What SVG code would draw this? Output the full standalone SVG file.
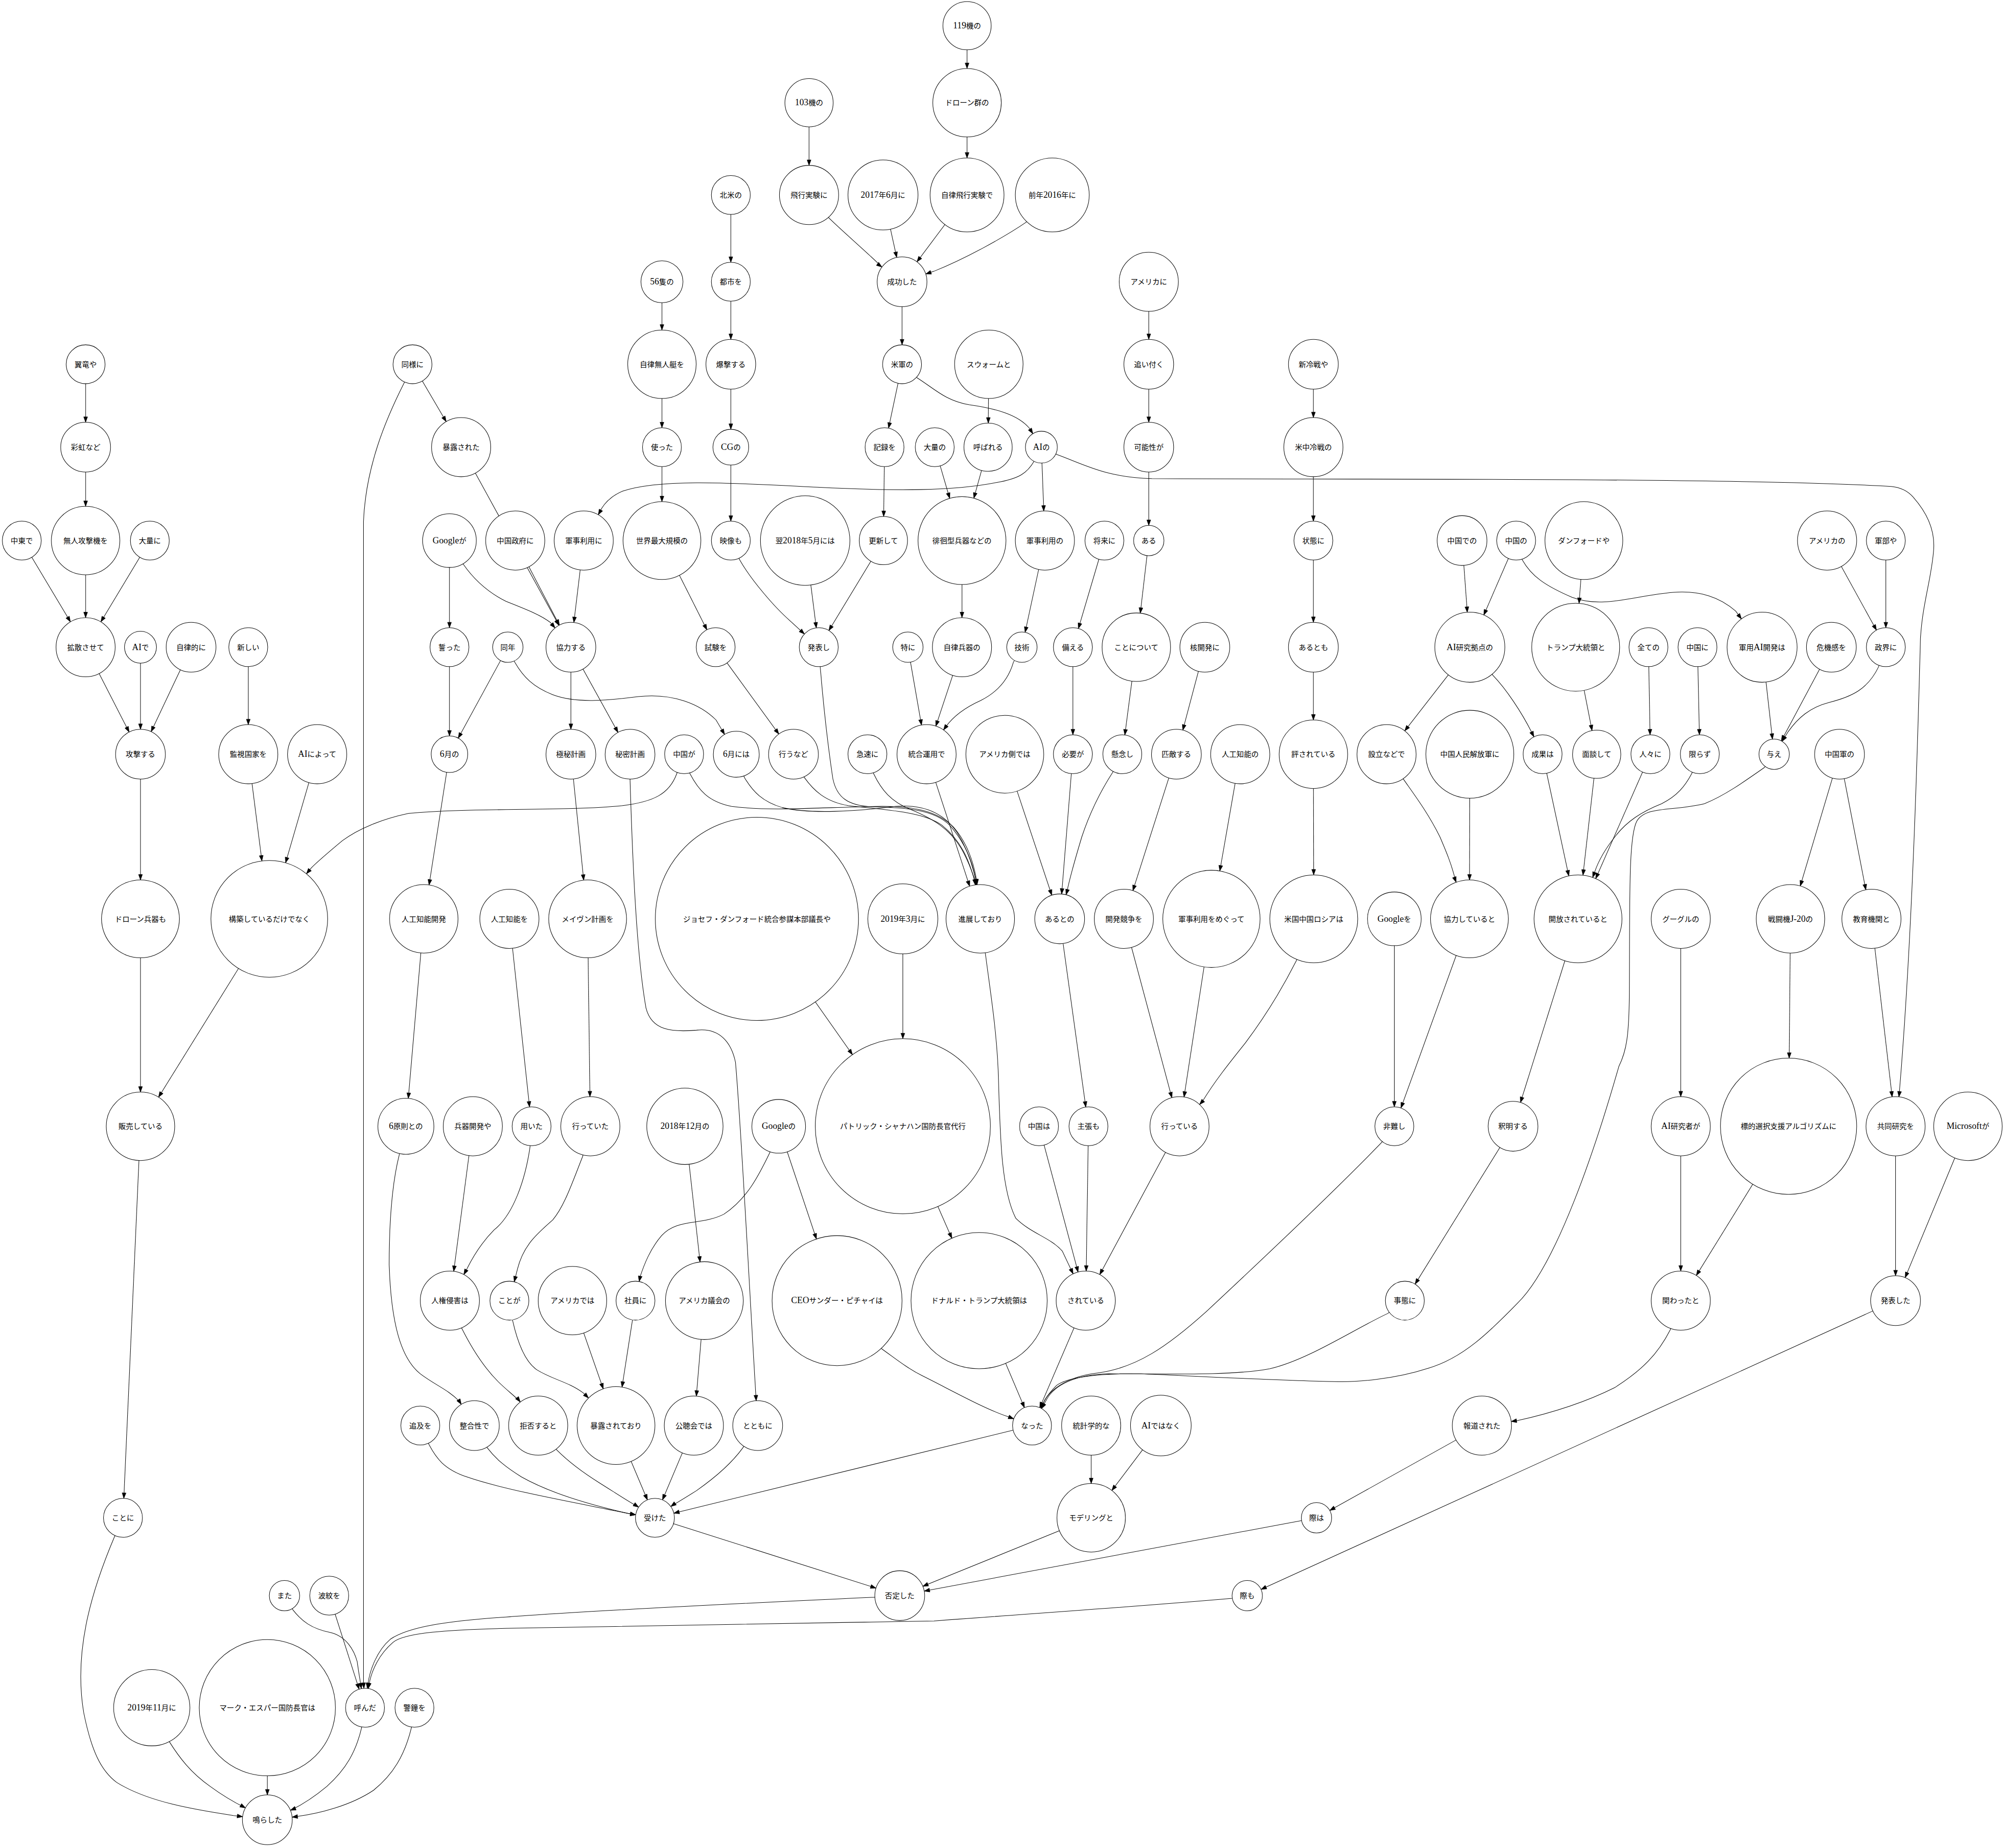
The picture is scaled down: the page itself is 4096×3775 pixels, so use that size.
<svg xmlns="http://www.w3.org/2000/svg" width="4096" height="3775" viewBox="0 0 4096 3775">
<style>
text{font-family:"Liberation Serif","Noto Sans CJK JP",serif;font-size:19px;text-anchor:middle;fill:#000}
.l{font-size:23px}
circle{fill:#fff;stroke:#000;stroke-width:1.3}
#edges path{fill:none;stroke:#000;stroke-width:1.3}
marker path{fill:#000;stroke:#000;stroke-width:1}
.m39{marker-end:url(#a39)}.m41{marker-end:url(#a41)}.m46{marker-end:url(#a46)}.m47{marker-end:url(#a47)}
.m50{marker-end:url(#a50)}.m59{marker-end:url(#a59)}.m62{marker-end:url(#a62)}.m64{marker-end:url(#a64)}
.m72{marker-end:url(#a72)}.m76{marker-end:url(#a76)}.m88{marker-end:url(#a88)}.m90{marker-end:url(#a90)}
.m95{marker-end:url(#a95)}.m100{marker-end:url(#a100)}.m113{marker-end:url(#a113)}.m125{marker-end:url(#a125)}
.m150{marker-end:url(#a150)}.m167{marker-end:url(#a167)}.m175{marker-end:url(#a175)}.m225{marker-end:url(#a225)}
</style>
<defs>
<marker id="a39" markerUnits="userSpaceOnUse" markerWidth="14" markerHeight="10" refX="53" refY="5" orient="auto" overflow="visible"><path d="M0,0L14,5L0,10z"/></marker>
<marker id="a41" markerUnits="userSpaceOnUse" markerWidth="14" markerHeight="10" refX="55" refY="5" orient="auto" overflow="visible"><path d="M0,0L14,5L0,10z"/></marker>
<marker id="a46" markerUnits="userSpaceOnUse" markerWidth="14" markerHeight="10" refX="60" refY="5" orient="auto" overflow="visible"><path d="M0,0L14,5L0,10z"/></marker>
<marker id="a47" markerUnits="userSpaceOnUse" markerWidth="14" markerHeight="10" refX="61" refY="5" orient="auto" overflow="visible"><path d="M0,0L14,5L0,10z"/></marker>
<marker id="a50" markerUnits="userSpaceOnUse" markerWidth="14" markerHeight="10" refX="64" refY="5" orient="auto" overflow="visible"><path d="M0,0L14,5L0,10z"/></marker>
<marker id="a59" markerUnits="userSpaceOnUse" markerWidth="14" markerHeight="10" refX="73" refY="5" orient="auto" overflow="visible"><path d="M0,0L14,5L0,10z"/></marker>
<marker id="a62" markerUnits="userSpaceOnUse" markerWidth="14" markerHeight="10" refX="76" refY="5" orient="auto" overflow="visible"><path d="M0,0L14,5L0,10z"/></marker>
<marker id="a64" markerUnits="userSpaceOnUse" markerWidth="14" markerHeight="10" refX="78" refY="5" orient="auto" overflow="visible"><path d="M0,0L14,5L0,10z"/></marker>
<marker id="a72" markerUnits="userSpaceOnUse" markerWidth="14" markerHeight="10" refX="86" refY="5" orient="auto" overflow="visible"><path d="M0,0L14,5L0,10z"/></marker>
<marker id="a76" markerUnits="userSpaceOnUse" markerWidth="14" markerHeight="10" refX="90" refY="5" orient="auto" overflow="visible"><path d="M0,0L14,5L0,10z"/></marker>
<marker id="a88" markerUnits="userSpaceOnUse" markerWidth="14" markerHeight="10" refX="102" refY="5" orient="auto" overflow="visible"><path d="M0,0L14,5L0,10z"/></marker>
<marker id="a90" markerUnits="userSpaceOnUse" markerWidth="14" markerHeight="10" refX="104" refY="5" orient="auto" overflow="visible"><path d="M0,0L14,5L0,10z"/></marker>
<marker id="a95" markerUnits="userSpaceOnUse" markerWidth="14" markerHeight="10" refX="109" refY="5" orient="auto" overflow="visible"><path d="M0,0L14,5L0,10z"/></marker>
<marker id="a100" markerUnits="userSpaceOnUse" markerWidth="14" markerHeight="10" refX="114" refY="5" orient="auto" overflow="visible"><path d="M0,0L14,5L0,10z"/></marker>
<marker id="a113" markerUnits="userSpaceOnUse" markerWidth="14" markerHeight="10" refX="127" refY="5" orient="auto" overflow="visible"><path d="M0,0L14,5L0,10z"/></marker>
<marker id="a125" markerUnits="userSpaceOnUse" markerWidth="14" markerHeight="10" refX="139" refY="5" orient="auto" overflow="visible"><path d="M0,0L14,5L0,10z"/></marker>
<marker id="a150" markerUnits="userSpaceOnUse" markerWidth="14" markerHeight="10" refX="164" refY="5" orient="auto" overflow="visible"><path d="M0,0L14,5L0,10z"/></marker>
<marker id="a167" markerUnits="userSpaceOnUse" markerWidth="14" markerHeight="10" refX="181" refY="5" orient="auto" overflow="visible"><path d="M0,0L14,5L0,10z"/></marker>
<marker id="a175" markerUnits="userSpaceOnUse" markerWidth="14" markerHeight="10" refX="189" refY="5" orient="auto" overflow="visible"><path d="M0,0L14,5L0,10z"/></marker>
<marker id="a225" markerUnits="userSpaceOnUse" markerWidth="14" markerHeight="10" refX="239" refY="5" orient="auto" overflow="visible"><path d="M0,0L14,5L0,10z"/></marker>
</defs>
<rect width="4096" height="3775" fill="#fff"/>
<g transform="scale(0.795)">
<g id="edges">
<path class="m88" d="M2485,66L2485,264"/>
<path class="m95" d="M2485,264L2485,501"/>
<path class="m76" d="M2079,264L2079,501"/>
<path class="m64" d="M2079,501L2129,559C2160,590 2230,650 2266,686L2318,724"/>
<path class="m64" d="M2269,501L2318,724"/>
<path class="m64" d="M2485,501L2318,724"/>
<path class="m64" d="M2704,501L2637,571C2580,610 2480,665 2400,697L2318,724"/>
<path class="m50" d="M2318,724L2318,936"/>
<path class="m50" d="M2318,936L2273,1149"/>
<path class="m41" d="M2318,936L2357,971C2400,998 2430,1030 2490,1040C2560,1050 2615,1065 2645,1100L2676,1149"/>
<path class="m62" d="M2273,1149L2270,1389"/>
<path class="m50" d="M2270,1389L2104,1663"/>
<path class="m50" d="M2069,1389L2104,1663"/>
<path class="m50" d="M1878,1389L1901,1439C1930,1490 1990,1560 2030,1595L2104,1663"/>
<path class="m50" d="M1878,501L1878,724"/>
<path class="m64" d="M1878,724L1878,936"/>
<path class="m46" d="M1878,936L1878,1149"/>
<path class="m50" d="M1878,1149L1878,1389"/>
<path class="m88" d="M1701,724L1701,936"/>
<path class="m50" d="M1701,936L1701,1149"/>
<path class="m100" d="M1701,1149L1701,1389"/>
<path class="m50" d="M1701,1389L1839,1663"/>
<path class="m64" d="M1839,1663L2039,1938"/>
<path class="m62" d="M2541,936L2539,1149"/>
<path class="m113" d="M2539,1149L2472,1389"/>
<path class="m113" d="M2402,1149L2472,1389"/>
<path class="m76" d="M2472,1389L2472,1663"/>
<path class="m76" d="M2472,1663L2381,1938"/>
<path class="m76" d="M2333,1663L2381,1938"/>
<path class="m76" d="M2626,1663L2604,1702C2590,1750 2560,1780 2520,1800C2480,1818 2450,1840 2430,1868L2381,1938"/>
<path class="m76" d="M2676,1149L2658,1184C2640,1215 2620,1230 2560,1240C2450,1262 2300,1262 2100,1252C1900,1242 1700,1228 1600,1262C1570,1275 1550,1295 1540,1318L1500,1389"/>
<path class="m76" d="M2676,1149L2685,1389"/>
<path class="m76" d="M2676,1149L2716,1168C2790,1195 2840,1226 2960,1230C3600,1232 4500,1228 4860,1250C4890,1253 4905,1265 4915,1276C4950,1315 4972,1360 4969,1410C4965,1480 4940,1550 4935,1640C4928,1900 4915,2400 4880,2815L4871,2894"/>
<path class="m39" d="M2685,1389L2626,1663"/>
<path class="m50" d="M2838,1389L2757,1663"/>
<path class="m50" d="M2757,1663L2757,1938"/>
<path class="m64" d="M2952,724L2952,936"/>
<path class="m64" d="M2952,936L2952,1149"/>
<path class="m39" d="M2952,1149L2952,1389"/>
<path class="m88" d="M2952,1389L2920,1663"/>
<path class="m50" d="M2920,1663L2884,1938"/>
<path class="m76" d="M3375,936L3375,1149"/>
<path class="m50" d="M3375,1149L3375,1389"/>
<path class="m64" d="M3375,1389L3375,1663"/>
<path class="m88" d="M3375,1663L3375,1938"/>
<path class="m113" d="M3375,1938L3376,2361"/>
<path class="m90" d="M3757,1389L3777,1663"/>
<path class="m90" d="M3896,1389L3777,1663"/>
<path class="m90" d="M3896,1389L3912,1439C3935,1480 3970,1505 4040,1535C4120,1565 4200,1530 4300,1522C4370,1517 4420,1535 4460,1570L4528,1663"/>
<path class="m113" d="M4070,1389L4049,1663"/>
<path class="m62" d="M4049,1663L4103,1938"/>
<path class="m76" d="M3777,1663L3563,1938"/>
<path class="m50" d="M3777,1663L3837,1736C3870,1770 3910,1830 3935,1880L3964,1938"/>
<path class="m50" d="M4236,1663L4241,1938"/>
<path class="m50" d="M4362,1663L4368,1938"/>
<path class="m50" d="M4695,1389L4846,1663"/>
<path class="m50" d="M4846,1389L4846,1663"/>
<path class="m39" d="M4528,1663L4559,1938"/>
<path class="m39" d="M4706,1663L4559,1938"/>
<path class="m39" d="M4846,1663L4827,1714C4800,1770 4760,1790 4700,1805C4650,1818 4620,1845 4595,1880L4559,1938"/>
<path class="m64" d="M220,936L220,1149"/>
<path class="m88" d="M220,1149L220,1389"/>
<path class="m76" d="M56,1389L220,1663"/>
<path class="m76" d="M220,1389L220,1663"/>
<path class="m76" d="M385,1389L220,1663"/>
<path class="m64" d="M220,1663L361,1938"/>
<path class="m64" d="M361,1663L361,1938"/>
<path class="m64" d="M491,1663L361,1938"/>
<path class="m76" d="M638,1663L638,1938"/>
<path class="m150" d="M638,1938L692,2361"/>
<path class="m150" d="M815,1938L692,2361"/>
<path class="m150" d="M1758,1938L1739,1988C1720,2040 1680,2060 1600,2070C1450,2085 1200,2075 1050,2090C980,2105 920,2130 880,2160C850,2185 820,2210 800,2230L692,2361"/>
<path class="m100" d="M361,1938L361,2361"/>
<path class="m88" d="M361,2361L361,2894"/>
<path class="m88" d="M692,2361L361,2894"/>
<path class="m50" d="M361,2894L316,3900"/>
<path class="m64" d="M316,3900L294,3949C230,4100 190,4250 215,4400C235,4500 260,4550 300,4580C380,4630 500,4650 600,4665L687,4676"/>
<path class="m76" d="M1060,936L1185,1149"/>
<path class="m50" d="M1060,936L1038,985C990,1080 940,1200 934,1340L934,4320L938,4388"/>
<path class="m64" d="M1185,1149L1467,1663"/>
<path class="m64" d="M1324,1389L1467,1663"/>
<path class="m64" d="M1500,1389L1467,1663"/>
<path class="m50" d="M1155,1389L1155,1663"/>
<path class="m64" d="M1155,1389L1190,1449C1215,1485 1250,1520 1300,1545C1350,1565 1390,1580 1415,1600L1467,1663"/>
<path class="m47" d="M1155,1663L1155,1938"/>
<path class="m47" d="M1305,1663L1155,1938"/>
<path class="m59" d="M1305,1663L1323,1702C1345,1740 1370,1765 1420,1785C1480,1808 1560,1800 1640,1790C1730,1780 1800,1810 1840,1850L1892,1938"/>
<path class="m64" d="M1467,1663L1467,1938"/>
<path class="m64" d="M1467,1663L1619,1938"/>
<path class="m88" d="M1155,1938L1089,2361"/>
<path class="m100" d="M1467,1938L1510,2361"/>
<path class="m64" d="M1619,1938L1619,2003C1625,2200 1635,2450 1660,2590C1675,2650 1730,2652 1790,2647C1850,2640 1880,2680 1890,2730C1905,2900 1925,3300 1942,3580L1947,3663"/>
<path class="m72" d="M1089,2361L1043,2894"/>
<path class="m64" d="M1043,2894L1026,2967C1005,3050 1000,3150 1000,3250C1005,3400 1030,3490 1080,3530C1120,3560 1150,3570 1180,3600L1219,3663"/>
<path class="m50" d="M1309,2361L1366,2894"/>
<path class="m76" d="M1366,2894L1362,2947C1350,3030 1320,3120 1270,3160C1240,3190 1215,3230 1200,3260L1156,3342"/>
<path class="m76" d="M1215,2894L1156,3342"/>
<path class="m76" d="M1510,2361L1517,2894"/>
<path class="m50" d="M1517,2894L1497,2972C1470,3040 1450,3100 1420,3135C1380,3170 1345,3200 1330,3260L1309,3342"/>
<path class="m100" d="M1309,3342L1317,3392C1330,3450 1350,3500 1380,3520C1420,3545 1460,3550 1500,3580L1583,3663"/>
<path class="m76" d="M1156,3342L1186,3412C1210,3460 1240,3510 1280,3550C1300,3570 1320,3585 1335,3600L1383,3663"/>
<path class="m100" d="M1471,3342L1583,3663"/>
<path class="m100" d="M1633,3342L1583,3663"/>
<path class="m50" d="M2001,2894L1978,2962C1950,3020 1920,3080 1860,3120C1800,3150 1740,3130 1700,3175C1670,3210 1655,3250 1645,3280L1633,3342"/>
<path class="m167" d="M2001,2894L2151,3342"/>
<path class="m100" d="M1760,2894L1810,3342"/>
<path class="m76" d="M1810,3342L1783,3663"/>
<path class="m50" d="M1080,3663L1103,3713C1120,3745 1140,3775 1200,3795C1300,3830 1500,3865 1620,3890L1683,3900"/>
<path class="m50" d="M1219,3663L1252,3720C1275,3750 1300,3770 1340,3795C1420,3840 1530,3870 1620,3890L1683,3900"/>
<path class="m50" d="M1383,3663L1431,3726C1460,3755 1500,3785 1540,3810C1580,3835 1610,3855 1640,3872L1683,3900"/>
<path class="m50" d="M1583,3663L1683,3900"/>
<path class="m50" d="M1783,3663L1683,3900"/>
<path class="m50" d="M1947,3663L1909,3720C1880,3760 1840,3795 1790,3830C1765,3846 1745,3858 1725,3870L1683,3900"/>
<path class="m50" d="M2652,3663L1683,3900"/>
<path class="m64" d="M1683,3900L2312,4100"/>
<path class="m50" d="M2151,3342L2266,3466C2300,3490 2330,3515 2370,3535C2450,3575 2530,3620 2590,3640L2652,3663"/>
<path class="m50" d="M2516,3342L2652,3663"/>
<path class="m50" d="M2790,3342L2652,3663"/>
<path class="m50" d="M3583,2894L3549,2937C3420,3070 3250,3230 3100,3370C3000,3460 2920,3515 2820,3528C2750,3536 2705,3565 2685,3597L2652,3663"/>
<path class="m50" d="M3610,3342L3566,3375C3480,3415 3360,3495 3263,3517C3170,3535 3000,3530 2850,3530C2760,3532 2710,3560 2690,3595L2652,3663"/>
<path class="m50" d="M4559,1938L4534,1972C4480,2010 4430,2045 4380,2065C4300,2085 4230,2070 4206,2110C4185,2150 4188,2300 4187,2550C4186,2660 4180,2700 4160,2740C4100,2950 4000,3250 3900,3348C3830,3420 3760,3490 3669,3516C3580,3545 3480,3552 3429,3550C3300,3548 3050,3535 2932,3530C2820,3528 2740,3540 2715,3560C2700,3575 2692,3585 2685,3597L2652,3663"/>
<path class="m76" d="M3031,2894L2790,3342"/>
<path class="m76" d="M2797,2894L2790,3342"/>
<path class="m76" d="M2670,2894L2790,3342"/>
<path class="m76" d="M2519,2361L2532,2449C2545,2550 2560,2640 2565,2750C2570,2900 2570,3050 2610,3130C2650,3170 2700,3180 2730,3215L2790,3342"/>
<path class="m76" d="M4319,3342L4292,3417C4260,3480 4220,3520 4150,3565C4070,3605 3990,3630 3900,3650L3808,3663"/>
<path class="m39" d="M3808,3663L3383,3900"/>
<path class="m64" d="M3383,3900L2312,4100"/>
<path class="m64" d="M2804,3900L2312,4100"/>
<path class="m88" d="M2804,3663L2804,3900"/>
<path class="m88" d="M2983,3663L2804,3900"/>
<path class="m50" d="M2312,4100L2248,4104C1900,4120 1500,4140 1300,4155C1150,4165 1050,4180 1003,4212C970,4240 950,4290 945,4330L938,4388"/>
<path class="m39" d="M4871,3342L3205,4100"/>
<path class="m50" d="M3205,4100L3166,4107C2900,4130 2600,4150 2400,4165L1300,4184C1150,4188 1040,4195 1010,4220C975,4250 955,4290 948,4330L938,4388"/>
<path class="m50" d="M731,4100L753,4137C775,4165 800,4185 850,4195C890,4205 910,4240 918,4270C922,4300 925,4315 928,4335L938,4388"/>
<path class="m50" d="M846,4100L938,4388"/>
<path class="m64" d="M938,4388L929,4440C915,4500 890,4545 840,4590C810,4615 780,4635 750,4650L687,4676"/>
<path class="m64" d="M390,4388L435,4475C460,4515 490,4555 540,4590C570,4612 600,4630 630,4645L687,4676"/>
<path class="m64" d="M687,4388L687,4676"/>
<path class="m64" d="M1065,4388L1057,4440C1040,4510 1010,4560 960,4600C900,4640 820,4660 760,4668L687,4676"/>
<path class="m225" d="M1945,2361L2320,2894"/>
<path class="m225" d="M2320,2361L2320,2894"/>
<path class="m175" d="M2320,2894L2516,3342"/>
<path class="m50" d="M3888,2894L3610,3342"/>
<path class="m64" d="M4055,2361L3888,2894"/>
<path class="m113" d="M3964,1938L4055,2361"/>
<path class="m113" d="M4103,1938L4055,2361"/>
<path class="m113" d="M4241,1938L4055,2361"/>
<path class="m113" d="M4368,1938L4347,1988C4330,2020 4310,2045 4270,2065C4220,2085 4180,2110 4150,2150C4130,2175 4110,2205 4098,2240L4055,2361"/>
<path class="m100" d="M3777,1938L3776,2361"/>
<path class="m100" d="M3563,1938L3607,2003C3640,2050 3670,2090 3700,2150C3715,2185 3730,2220 3740,2262L3776,2361"/>
<path class="m50" d="M3776,2361L3583,2894"/>
<path class="m50" d="M3583,2361L3583,2894"/>
<path class="m76" d="M4319,2361L4319,2894"/>
<path class="m76" d="M4319,2894L4319,3342"/>
<path class="m76" d="M4596,2894L4319,3342"/>
<path class="m175" d="M4601,2361L4596,2894"/>
<path class="m88" d="M4727,1938L4601,2361"/>
<path class="m76" d="M4727,1938L4809,2361"/>
<path class="m76" d="M4809,2361L4871,2894"/>
<path class="m64" d="M4871,2894L4871,3342"/>
<path class="m64" d="M5057,2894L4871,3342"/>
<path class="m64" d="M2582,1938L2723,2361"/>
<path class="m64" d="M2757,1938L2723,2361"/>
<path class="m64" d="M2884,1938L2859,1985C2830,2030 2800,2090 2780,2150C2765,2200 2750,2250 2742,2290L2723,2361"/>
<path class="m50" d="M2723,2361L2797,2894"/>
<path class="m76" d="M3023,1938L2888,2361"/>
<path class="m64" d="M3096,1663L3023,1938"/>
<path class="m125" d="M3187,1938L3113,2361"/>
<path class="m76" d="M2888,2361L3031,2894"/>
<path class="m76" d="M3113,2361L3031,2894"/>
<path class="m76" d="M3376,2361L3331,2469C3300,2530 3260,2600 3200,2680C3160,2730 3120,2780 3090,2830L3031,2894"/>
<path class="m88" d="M2381,1938L2519,2361"/>
<path class="m88" d="M2229,1938L2245,1988C2265,2030 2290,2060 2340,2080C2400,2105 2440,2130 2470,2180C2490,2215 2500,2245 2508,2270L2519,2361"/>
<path class="m88" d="M2039,1938L2067,1998C2090,2030 2120,2060 2180,2070C2280,2082 2370,2085 2420,2120C2470,2160 2490,2210 2505,2265L2519,2361"/>
<path class="m88" d="M1892,1938L1913,1998C1935,2035 1960,2060 2010,2075C2080,2092 2200,2085 2300,2072C2380,2065 2430,2095 2460,2140C2485,2180 2500,2225 2508,2265L2519,2361"/>
<path class="m88" d="M1758,1938L1773,1988C1795,2030 1820,2060 1880,2072C1980,2085 2100,2075 2250,2072C2350,2070 2410,2085 2450,2125C2485,2165 2502,2215 2510,2265L2519,2361"/>
<path class="m88" d="M2104,1663L2108,1717C2115,1800 2125,1900 2140,2000C2150,2050 2180,2070 2240,2073C2330,2075 2400,2080 2440,2120C2480,2165 2500,2215 2508,2265L2519,2361"/>
</g>
<g id="n1"><circle cx="2485" cy="66" r="62"/><text x="2485" y="73"><tspan class="l">119</tspan>機の</text></g>
<g id="n2"><circle cx="2079" cy="264" r="62"/><text x="2079" y="271"><tspan class="l">103</tspan>機の</text></g>
<g id="n3"><circle cx="2485" cy="264" r="88"/><text x="2485" y="271">ドローン群の</text></g>
<g id="n4"><circle cx="1878" cy="501" r="50"/><text x="1878" y="508">北米の</text></g>
<g id="n5"><circle cx="2079" cy="501" r="76"/><text x="2079" y="508">飛行実験に</text></g>
<g id="n6"><circle cx="2269" cy="501" r="90"/><text x="2269" y="508"><tspan class="l">2017</tspan>年<tspan class="l">6</tspan>月に</text></g>
<g id="n7"><circle cx="2485" cy="501" r="95"/><text x="2485" y="508">自律飛行実験で</text></g>
<g id="n8"><circle cx="2704" cy="501" r="95"/><text x="2704" y="508">前年<tspan class="l">2016</tspan>年に</text></g>
<g id="n9"><circle cx="1701" cy="724" r="54"/><text x="1701" y="731"><tspan class="l">56</tspan>隻の</text></g>
<g id="n10"><circle cx="1878" cy="724" r="50"/><text x="1878" y="731">都市を</text></g>
<g id="n11"><circle cx="2318" cy="724" r="64"/><text x="2318" y="731">成功した</text></g>
<g id="n12"><circle cx="2952" cy="724" r="76"/><text x="2952" y="731">アメリカに</text></g>
<g id="n13"><circle cx="220" cy="936" r="50"/><text x="220" y="943">翼竜や</text></g>
<g id="n14"><circle cx="1060" cy="936" r="50"/><text x="1060" y="943">同様に</text></g>
<g id="n15"><circle cx="1701" cy="936" r="88"/><text x="1701" y="943">自律無人艇を</text></g>
<g id="n16"><circle cx="1878" cy="936" r="64"/><text x="1878" y="943">爆撃する</text></g>
<g id="n17"><circle cx="2318" cy="936" r="50"/><text x="2318" y="943">米軍の</text></g>
<g id="n18"><circle cx="2541" cy="936" r="88"/><text x="2541" y="943">スウォームと</text></g>
<g id="n19"><circle cx="2952" cy="936" r="64"/><text x="2952" y="943">追い付く</text></g>
<g id="n20"><circle cx="3375" cy="936" r="64"/><text x="3375" y="943">新冷戦や</text></g>
<g id="n21"><circle cx="220" cy="1149" r="64"/><text x="220" y="1156">彩虹など</text></g>
<g id="n22"><circle cx="1185" cy="1149" r="76"/><text x="1185" y="1156">暴露された</text></g>
<g id="n23"><circle cx="1701" cy="1149" r="50"/><text x="1701" y="1156">使った</text></g>
<g id="n24"><circle cx="1878" cy="1149" r="46"/><text x="1878" y="1156"><tspan class="l">CG</tspan>の</text></g>
<g id="n25"><circle cx="2273" cy="1149" r="50"/><text x="2273" y="1156">記録を</text></g>
<g id="n26"><circle cx="2402" cy="1149" r="50"/><text x="2402" y="1156">大量の</text></g>
<g id="n27"><circle cx="2539" cy="1149" r="62"/><text x="2539" y="1156">呼ばれる</text></g>
<g id="n28"><circle cx="2676" cy="1149" r="41"/><text x="2676" y="1156"><tspan class="l">AI</tspan>の</text></g>
<g id="n29"><circle cx="2952" cy="1149" r="64"/><text x="2952" y="1156">可能性が</text></g>
<g id="n30"><circle cx="3375" cy="1149" r="76"/><text x="3375" y="1156">米中冷戦の</text></g>
<g id="n31"><circle cx="56" cy="1389" r="50"/><text x="56" y="1396">中東で</text></g>
<g id="n32"><circle cx="220" cy="1389" r="88"/><text x="220" y="1396">無人攻撃機を</text></g>
<g id="n33"><circle cx="385" cy="1389" r="50"/><text x="385" y="1396">大量に</text></g>
<g id="n34"><circle cx="1155" cy="1389" r="69"/><text x="1155" y="1396"><tspan class="l">Google</tspan>が</text></g>
<g id="n35"><circle cx="1324" cy="1389" r="76"/><text x="1324" y="1396">中国政府に</text></g>
<g id="n36"><circle cx="1500" cy="1389" r="76"/><text x="1500" y="1396">軍事利用に</text></g>
<g id="n37"><circle cx="1701" cy="1389" r="100"/><text x="1701" y="1396">世界最大規模の</text></g>
<g id="n38"><circle cx="1878" cy="1389" r="50"/><text x="1878" y="1396">映像も</text></g>
<g id="n39"><circle cx="2069" cy="1389" r="115"/><text x="2069" y="1396">翌<tspan class="l">2018</tspan>年<tspan class="l">5</tspan>月には</text></g>
<g id="n40"><circle cx="2270" cy="1389" r="62"/><text x="2270" y="1396">更新して</text></g>
<g id="n41"><circle cx="2472" cy="1389" r="113"/><text x="2472" y="1396">徘徊型兵器などの</text></g>
<g id="n42"><circle cx="2685" cy="1389" r="76"/><text x="2685" y="1396">軍事利用の</text></g>
<g id="n43"><circle cx="2838" cy="1389" r="50"/><text x="2838" y="1396">将来に</text></g>
<g id="n44"><circle cx="2952" cy="1389" r="39"/><text x="2952" y="1396">ある</text></g>
<g id="n45"><circle cx="3375" cy="1389" r="50"/><text x="3375" y="1396">状態に</text></g>
<g id="n46"><circle cx="3757" cy="1389" r="64"/><text x="3757" y="1396">中国での</text></g>
<g id="n47"><circle cx="3896" cy="1389" r="50"/><text x="3896" y="1396">中国の</text></g>
<g id="n48"><circle cx="4070" cy="1389" r="100"/><text x="4070" y="1396">ダンフォードや</text></g>
<g id="n49"><circle cx="4695" cy="1389" r="76"/><text x="4695" y="1396">アメリカの</text></g>
<g id="n50"><circle cx="4846" cy="1389" r="50"/><text x="4846" y="1396">軍部や</text></g>
<g id="n51"><circle cx="220" cy="1663" r="76"/><text x="220" y="1670">拡散させて</text></g>
<g id="n52"><circle cx="361" cy="1663" r="41"/><text x="361" y="1670"><tspan class="l">AI</tspan>で</text></g>
<g id="n53"><circle cx="491" cy="1663" r="64"/><text x="491" y="1670">自律的に</text></g>
<g id="n54"><circle cx="638" cy="1663" r="50"/><text x="638" y="1670">新しい</text></g>
<g id="n55"><circle cx="1155" cy="1663" r="50"/><text x="1155" y="1670">誓った</text></g>
<g id="n56"><circle cx="1305" cy="1663" r="39"/><text x="1305" y="1670">同年</text></g>
<g id="n57"><circle cx="1467" cy="1663" r="64"/><text x="1467" y="1670">協力する</text></g>
<g id="n58"><circle cx="1839" cy="1663" r="50"/><text x="1839" y="1670">試験を</text></g>
<g id="n59"><circle cx="2104" cy="1663" r="50"/><text x="2104" y="1670">発表し</text></g>
<g id="n60"><circle cx="2333" cy="1663" r="39"/><text x="2333" y="1670">特に</text></g>
<g id="n61"><circle cx="2472" cy="1663" r="76"/><text x="2472" y="1670">自律兵器の</text></g>
<g id="n62"><circle cx="2626" cy="1663" r="39"/><text x="2626" y="1670">技術</text></g>
<g id="n63"><circle cx="2757" cy="1663" r="50"/><text x="2757" y="1670">備える</text></g>
<g id="n64"><circle cx="2920" cy="1663" r="88"/><text x="2920" y="1670">ことについて</text></g>
<g id="n65"><circle cx="3096" cy="1663" r="64"/><text x="3096" y="1670">核開発に</text></g>
<g id="n66"><circle cx="3375" cy="1663" r="64"/><text x="3375" y="1670">あるとも</text></g>
<g id="n67"><circle cx="3777" cy="1663" r="90"/><text x="3777" y="1670"><tspan class="l">AI</tspan>研究拠点の</text></g>
<g id="n68"><circle cx="4049" cy="1663" r="113"/><text x="4049" y="1670">トランプ大統領と</text></g>
<g id="n69"><circle cx="4236" cy="1663" r="50"/><text x="4236" y="1670">全ての</text></g>
<g id="n70"><circle cx="4362" cy="1663" r="50"/><text x="4362" y="1670">中国に</text></g>
<g id="n71"><circle cx="4528" cy="1663" r="90"/><text x="4528" y="1670">軍用<tspan class="l">AI</tspan>開発は</text></g>
<g id="n72"><circle cx="4706" cy="1663" r="64"/><text x="4706" y="1670">危機感を</text></g>
<g id="n73"><circle cx="4846" cy="1663" r="50"/><text x="4846" y="1670">政界に</text></g>
<g id="n74"><circle cx="361" cy="1938" r="64"/><text x="361" y="1945">攻撃する</text></g>
<g id="n75"><circle cx="638" cy="1938" r="76"/><text x="638" y="1945">監視国家を</text></g>
<g id="n76"><circle cx="815" cy="1938" r="76"/><text x="815" y="1945"><tspan class="l">AI</tspan>によって</text></g>
<g id="n77"><circle cx="1155" cy="1938" r="47"/><text x="1155" y="1945"><tspan class="l">6</tspan>月の</text></g>
<g id="n78"><circle cx="1467" cy="1938" r="64"/><text x="1467" y="1945">極秘計画</text></g>
<g id="n79"><circle cx="1619" cy="1938" r="64"/><text x="1619" y="1945">秘密計画</text></g>
<g id="n80"><circle cx="1758" cy="1938" r="50"/><text x="1758" y="1945">中国が</text></g>
<g id="n81"><circle cx="1892" cy="1938" r="59"/><text x="1892" y="1945"><tspan class="l">6</tspan>月には</text></g>
<g id="n82"><circle cx="2039" cy="1938" r="64"/><text x="2039" y="1945">行うなど</text></g>
<g id="n83"><circle cx="2229" cy="1938" r="50"/><text x="2229" y="1945">急速に</text></g>
<g id="n84"><circle cx="2381" cy="1938" r="76"/><text x="2381" y="1945">統合運用で</text></g>
<g id="n85"><circle cx="2582" cy="1938" r="100"/><text x="2582" y="1945">アメリカ側では</text></g>
<g id="n86"><circle cx="2757" cy="1938" r="50"/><text x="2757" y="1945">必要が</text></g>
<g id="n87"><circle cx="2884" cy="1938" r="50"/><text x="2884" y="1945">懸念し</text></g>
<g id="n88"><circle cx="3023" cy="1938" r="64"/><text x="3023" y="1945">匹敵する</text></g>
<g id="n89"><circle cx="3187" cy="1938" r="76"/><text x="3187" y="1945">人工知能の</text></g>
<g id="n90"><circle cx="3375" cy="1938" r="88"/><text x="3375" y="1945">評されている</text></g>
<g id="n91"><circle cx="3563" cy="1938" r="76"/><text x="3563" y="1945">設立などで</text></g>
<g id="n92"><circle cx="3777" cy="1938" r="113"/><text x="3777" y="1945">中国人民解放軍に</text></g>
<g id="n93"><circle cx="3964" cy="1938" r="50"/><text x="3964" y="1945">成果は</text></g>
<g id="n94"><circle cx="4103" cy="1938" r="62"/><text x="4103" y="1945">面談して</text></g>
<g id="n95"><circle cx="4241" cy="1938" r="50"/><text x="4241" y="1945">人々に</text></g>
<g id="n96"><circle cx="4368" cy="1938" r="50"/><text x="4368" y="1945">限らず</text></g>
<g id="n97"><circle cx="4559" cy="1938" r="39"/><text x="4559" y="1945">与え</text></g>
<g id="n98"><circle cx="4727" cy="1938" r="64"/><text x="4727" y="1945">中国軍の</text></g>
<g id="n99"><circle cx="361" cy="2361" r="100"/><text x="361" y="2368">ドローン兵器も</text></g>
<g id="n100"><circle cx="692" cy="2361" r="150"/><text x="692" y="2368">構築しているだけでなく</text></g>
<g id="n101"><circle cx="1089" cy="2361" r="88"/><text x="1089" y="2368">人工知能開発</text></g>
<g id="n102"><circle cx="1309" cy="2361" r="76"/><text x="1309" y="2368">人工知能を</text></g>
<g id="n103"><circle cx="1510" cy="2361" r="100"/><text x="1510" y="2368">メイヴン計画を</text></g>
<g id="n104"><circle cx="1945" cy="2361" r="261"/><text x="1945" y="2368">ジョセフ・ダンフォード統合参謀本部議長や</text></g>
<g id="n105"><circle cx="2320" cy="2361" r="90"/><text x="2320" y="2368"><tspan class="l">2019</tspan>年<tspan class="l">3</tspan>月に</text></g>
<g id="n106"><circle cx="2519" cy="2361" r="88"/><text x="2519" y="2368">進展しており</text></g>
<g id="n107"><circle cx="2723" cy="2361" r="64"/><text x="2723" y="2368">あるとの</text></g>
<g id="n108"><circle cx="2888" cy="2361" r="76"/><text x="2888" y="2368">開発競争を</text></g>
<g id="n109"><circle cx="3113" cy="2361" r="125"/><text x="3113" y="2368">軍事利用をめぐって</text></g>
<g id="n110"><circle cx="3376" cy="2361" r="113"/><text x="3376" y="2368">米国中国ロシアは</text></g>
<g id="n111"><circle cx="3583" cy="2361" r="69"/><text x="3583" y="2368"><tspan class="l">Google</tspan>を</text></g>
<g id="n112"><circle cx="3776" cy="2361" r="100"/><text x="3776" y="2368">協力していると</text></g>
<g id="n113"><circle cx="4055" cy="2361" r="113"/><text x="4055" y="2368">開放されていると</text></g>
<g id="n114"><circle cx="4319" cy="2361" r="76"/><text x="4319" y="2368">グーグルの</text></g>
<g id="n115"><circle cx="4601" cy="2361" r="88"/><text x="4601" y="2368">戦闘機<tspan class="l">J-20</tspan>の</text></g>
<g id="n116"><circle cx="4809" cy="2361" r="76"/><text x="4809" y="2368">教育機関と</text></g>
<g id="n117"><circle cx="361" cy="2894" r="88"/><text x="361" y="2901">販売している</text></g>
<g id="n118"><circle cx="1043" cy="2894" r="72"/><text x="1043" y="2901"><tspan class="l">6</tspan>原則との</text></g>
<g id="n119"><circle cx="1215" cy="2894" r="76"/><text x="1215" y="2901">兵器開発や</text></g>
<g id="n120"><circle cx="1366" cy="2894" r="50"/><text x="1366" y="2901">用いた</text></g>
<g id="n121"><circle cx="1517" cy="2894" r="76"/><text x="1517" y="2901">行っていた</text></g>
<g id="n122"><circle cx="1760" cy="2894" r="98"/><text x="1760" y="2901"><tspan class="l">2018</tspan>年<tspan class="l">12</tspan>月の</text></g>
<g id="n123"><circle cx="2001" cy="2894" r="69"/><text x="2001" y="2901"><tspan class="l">Google</tspan>の</text></g>
<g id="n124"><circle cx="2320" cy="2894" r="225"/><text x="2320" y="2901">パトリック・シャナハン国防長官代行</text></g>
<g id="n125"><circle cx="2670" cy="2894" r="50"/><text x="2670" y="2901">中国は</text></g>
<g id="n126"><circle cx="2797" cy="2894" r="50"/><text x="2797" y="2901">主張も</text></g>
<g id="n127"><circle cx="3031" cy="2894" r="76"/><text x="3031" y="2901">行っている</text></g>
<g id="n128"><circle cx="3583" cy="2894" r="50"/><text x="3583" y="2901">非難し</text></g>
<g id="n129"><circle cx="3888" cy="2894" r="64"/><text x="3888" y="2901">釈明する</text></g>
<g id="n130"><circle cx="4319" cy="2894" r="76"/><text x="4319" y="2901"><tspan class="l">AI</tspan>研究者が</text></g>
<g id="n131"><circle cx="4596" cy="2894" r="175"/><text x="4596" y="2901">標的選択支援アルゴリズムに</text></g>
<g id="n132"><circle cx="4871" cy="2894" r="76"/><text x="4871" y="2901">共同研究を</text></g>
<g id="n133"><circle cx="5057" cy="2894" r="88"/><text x="5057" y="2901"><tspan class="l">Microsoft</tspan>が</text></g>
<g id="n134"><circle cx="1156" cy="3342" r="76"/><text x="1156" y="3349">人権侵害は</text></g>
<g id="n135"><circle cx="1309" cy="3342" r="50"/><text x="1309" y="3349">ことが</text></g>
<g id="n136"><circle cx="1471" cy="3342" r="88"/><text x="1471" y="3349">アメリカでは</text></g>
<g id="n137"><circle cx="1633" cy="3342" r="50"/><text x="1633" y="3349">社員に</text></g>
<g id="n138"><circle cx="1810" cy="3342" r="100"/><text x="1810" y="3349">アメリカ議会の</text></g>
<g id="n139"><circle cx="2151" cy="3342" r="167"/><text x="2151" y="3349"><tspan class="l">CEO</tspan>サンダー・ピチャイは</text></g>
<g id="n140"><circle cx="2516" cy="3342" r="175"/><text x="2516" y="3349">ドナルド・トランプ大統領は</text></g>
<g id="n141"><circle cx="2790" cy="3342" r="76"/><text x="2790" y="3349">されている</text></g>
<g id="n142"><circle cx="3610" cy="3342" r="50"/><text x="3610" y="3349">事態に</text></g>
<g id="n143"><circle cx="4319" cy="3342" r="76"/><text x="4319" y="3349">関わったと</text></g>
<g id="n144"><circle cx="4871" cy="3342" r="64"/><text x="4871" y="3349">発表した</text></g>
<g id="n145"><circle cx="1080" cy="3663" r="50"/><text x="1080" y="3670">追及を</text></g>
<g id="n146"><circle cx="1219" cy="3663" r="64"/><text x="1219" y="3670">整合性で</text></g>
<g id="n147"><circle cx="1383" cy="3663" r="76"/><text x="1383" y="3670">拒否すると</text></g>
<g id="n148"><circle cx="1583" cy="3663" r="100"/><text x="1583" y="3670">暴露されており</text></g>
<g id="n149"><circle cx="1783" cy="3663" r="76"/><text x="1783" y="3670">公聴会では</text></g>
<g id="n150"><circle cx="1947" cy="3663" r="64"/><text x="1947" y="3670">とともに</text></g>
<g id="n151"><circle cx="2652" cy="3663" r="50"/><text x="2652" y="3670">なった</text></g>
<g id="n152"><circle cx="2804" cy="3663" r="76"/><text x="2804" y="3670">統計学的な</text></g>
<g id="n153"><circle cx="2983" cy="3663" r="78"/><text x="2983" y="3670"><tspan class="l">AI</tspan>ではなく</text></g>
<g id="n154"><circle cx="3808" cy="3663" r="76"/><text x="3808" y="3670">報道された</text></g>
<g id="n155"><circle cx="316" cy="3900" r="50"/><text x="316" y="3907">ことに</text></g>
<g id="n156"><circle cx="1683" cy="3900" r="50"/><text x="1683" y="3907">受けた</text></g>
<g id="n157"><circle cx="2804" cy="3900" r="88"/><text x="2804" y="3907">モデリングと</text></g>
<g id="n158"><circle cx="3383" cy="3900" r="39"/><text x="3383" y="3907">際は</text></g>
<g id="n159"><circle cx="731" cy="4100" r="39"/><text x="731" y="4107">また</text></g>
<g id="n160"><circle cx="846" cy="4100" r="50"/><text x="846" y="4107">波紋を</text></g>
<g id="n161"><circle cx="2312" cy="4100" r="64"/><text x="2312" y="4107">否定した</text></g>
<g id="n162"><circle cx="3205" cy="4100" r="39"/><text x="3205" y="4107">際も</text></g>
<g id="n163"><circle cx="390" cy="4388" r="98"/><text x="390" y="4395"><tspan class="l">2019</tspan>年<tspan class="l">11</tspan>月に</text></g>
<g id="n164"><circle cx="687" cy="4388" r="175"/><text x="687" y="4395">マーク・エスパー国防長官は</text></g>
<g id="n165"><circle cx="938" cy="4388" r="50"/><text x="938" y="4395">呼んだ</text></g>
<g id="n166"><circle cx="1065" cy="4388" r="50"/><text x="1065" y="4395">警鐘を</text></g>
<g id="n167"><circle cx="687" cy="4676" r="64"/><text x="687" y="4683">鳴らした</text></g>
</g>
</svg>
